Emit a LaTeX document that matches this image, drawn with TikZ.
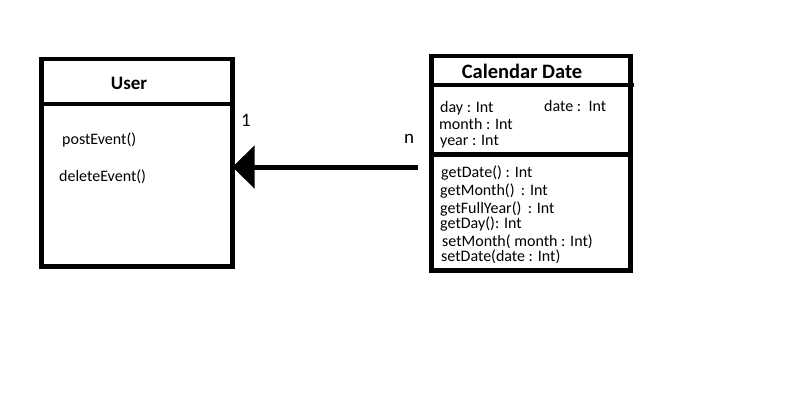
\documentclass[tikz,border=0pt]{standalone}
\usepackage{fontspec}
\setmainfont{Carlito}
\usetikzlibrary{arrows.meta,positioning}

\begin{document}
\begin{tikzpicture}[x=1pt,y=-1pt,
  classbox/.style={draw=black,line width=4.5pt,fill=white,outer sep=0pt,inner sep=0pt},
  rule/.style={draw=black,line width=4.5pt},
  title/.style={anchor=base,inner sep=0pt,font=\bfseries\fontsize{20.5}{24}\selectfont},
  member/.style={anchor=base west,inner sep=0pt,font=\fontsize{16}{19}\selectfont},
  mult/.style={anchor=base west,inner sep=0pt,font=\fontsize{19}{22}\selectfont},
  assoc/.style={-{Triangle[length=22pt,width=42pt]},line width=5pt,draw=black}]

\useasboundingbox (0,0) rectangle (795,402);

% classes
\node[classbox,minimum width=190.8pt,minimum height=207.5pt] (user) at (137.1,162.75) {};
\node[classbox,minimum width=199pt,minimum height=214.5pt]   (cal)  at (531,163.25) {};
\draw[rule] (user.west |- 0,104) -- (user.east |- 0,104);
\draw[rule] (cal.west |- 0,85) -- ([xshift=3pt]cal.east |- 0,85);
\draw[rule] (cal.west |- 0,154.5) -- (cal.east |- 0,154.5);

% User
\node[title,font=\bfseries\fontsize{19}{22}\selectfont] (utitle) at (129,89) {User};
\node[member] (post) at (62,144) {postEvent()};
\node[member] (del)  at (59,181) {deleteEvent()};

% Calendar Date
\node[title] (ctitle) at (522,78) {Calendar Date};
\node[member] (day)   at (440,112.5) {day : Int};
\node[member] (date)  at (544,111.5) {date :\, Int};
\node[member] (month) at (439,129) {month : Int};
\node[member] (year)  at (440,145.5) {year : Int};
\node[member] (gdate)  at (441,177.5) {getDate() : Int};
\node[member] (gmonth) at (440,195)   {getMonth() \,: Int};
\node[member] (gyear)  at (440,213)   {getFullYear() \,: Int};
\node[member] (gday)   at (440,228)   {getDay(): Int};
\node[member] (smonth) at (442,246)   {setMonth( month : Int)};
\node[member] (sdate)  at (441,261)   {setDate(date : Int)};

% association
\coordinate (tail) at (418,167);
\draw[assoc] (tail) -- (user.east |- tail);
\node[mult] (one) at (241,126) {1};
\node[mult] (many) at (404,143) {n};
\end{tikzpicture}
\end{document}
